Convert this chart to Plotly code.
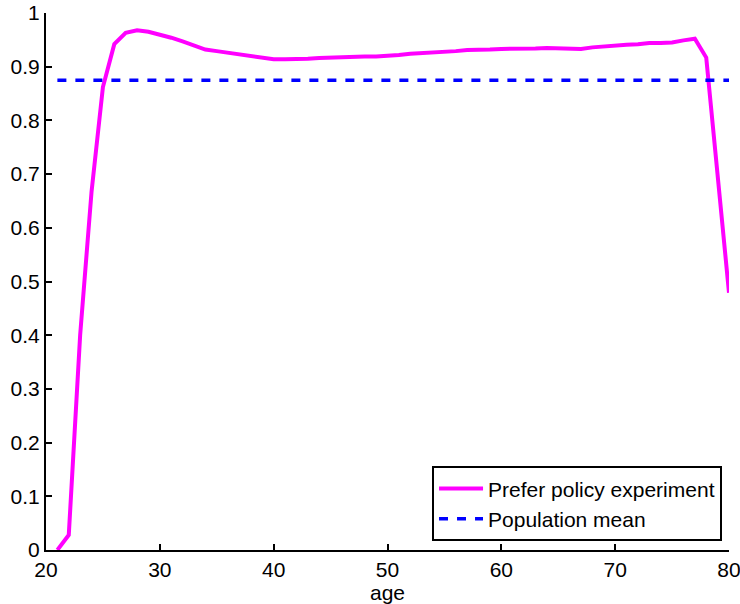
import plotly.graph_objects as go

ages = list(range(21, 81))
prefer = [0.000, 0.028, 0.400, 0.667, 0.862, 0.942, 0.963, 0.968, 0.965, 0.960,
          0.954, 0.947, 0.939, 0.932, 0.929, 0.926, 0.923, 0.920, 0.917, 0.914,
          0.914, 0.914, 0.915, 0.916, 0.917, 0.917, 0.918, 0.919, 0.919, 0.920,
          0.922, 0.924, 0.925, 0.926, 0.928, 0.929, 0.931, 0.931, 0.932, 0.933,
          0.933, 0.934, 0.934, 0.935, 0.934, 0.934, 0.933, 0.936, 0.938, 0.939,
          0.941, 0.942, 0.944, 0.944, 0.945, 0.949, 0.952, 0.917, 0.698, 0.479]
pop_mean = 0.875
mean_x = [21, 80]
mean_y = [pop_mean, pop_mean]

x_ticks = [20, 30, 40, 50, 60, 70, 80]
y_ticks = [0, 0.1, 0.2, 0.3, 0.4, 0.5, 0.6, 0.7, 0.8, 0.9, 1]
y_ticktext = ["0", "0.1", "0.2", "0.3", "0.4", "0.5", "0.6", "0.7", "0.8", "0.9", "1"]

fig = go.Figure()
fig.add_trace(go.Scatter(x=ages, y=prefer, mode="lines", name="Prefer policy experiment",
                         line=dict(color="#FF00FF", width=4), cliponaxis=False))
fig.add_trace(go.Scatter(x=mean_x, y=mean_y, mode="lines", name="Population mean",
                         line=dict(color="#0000FF", width=3.5, dash="9px,9px")))

font = "Liberation Sans, Arial, Helvetica, sans-serif"
fig.update_layout(
    width=740, height=604,
    margin=dict(l=46, r=11, t=13, b=54, autoexpand=False),
    paper_bgcolor="white", plot_bgcolor="white",
    font=dict(family=font, size=21, color="black"),
    showlegend=True,
    legend=dict(x=0.9898, y=0.016, xanchor="right", yanchor="bottom",
                bgcolor="white", bordercolor="black", borderwidth=2,
                font=dict(size=21), itemwidth=44, tracegroupgap=0),
    xaxis=dict(range=[20, 80], tickvals=x_ticks, ticks="inside", ticklen=6, tickwidth=2,
               tickcolor="black", showline=True, linecolor="black", linewidth=2,
               showgrid=False, zeroline=False, mirror=False, automargin=False,
               ticklabeloverflow="allow",
               title=dict(text="age", font=dict(size=21), standoff=0),
               tickfont=dict(size=21)),
    yaxis=dict(range=[0, 1], tickvals=y_ticks, ticktext=y_ticktext, ticks="inside",
               ticklen=6, tickwidth=2, tickcolor="black", showline=True,
               linecolor="black", linewidth=2, showgrid=False, zeroline=False,
               mirror=False, automargin=False, ticklabeloverflow="allow",
               tickfont=dict(size=21)),
)
fig.write_html("out.html", config={"displayModeBar": False},
               post_script="document.body.style.margin='0';document.body.style.padding='0';")
